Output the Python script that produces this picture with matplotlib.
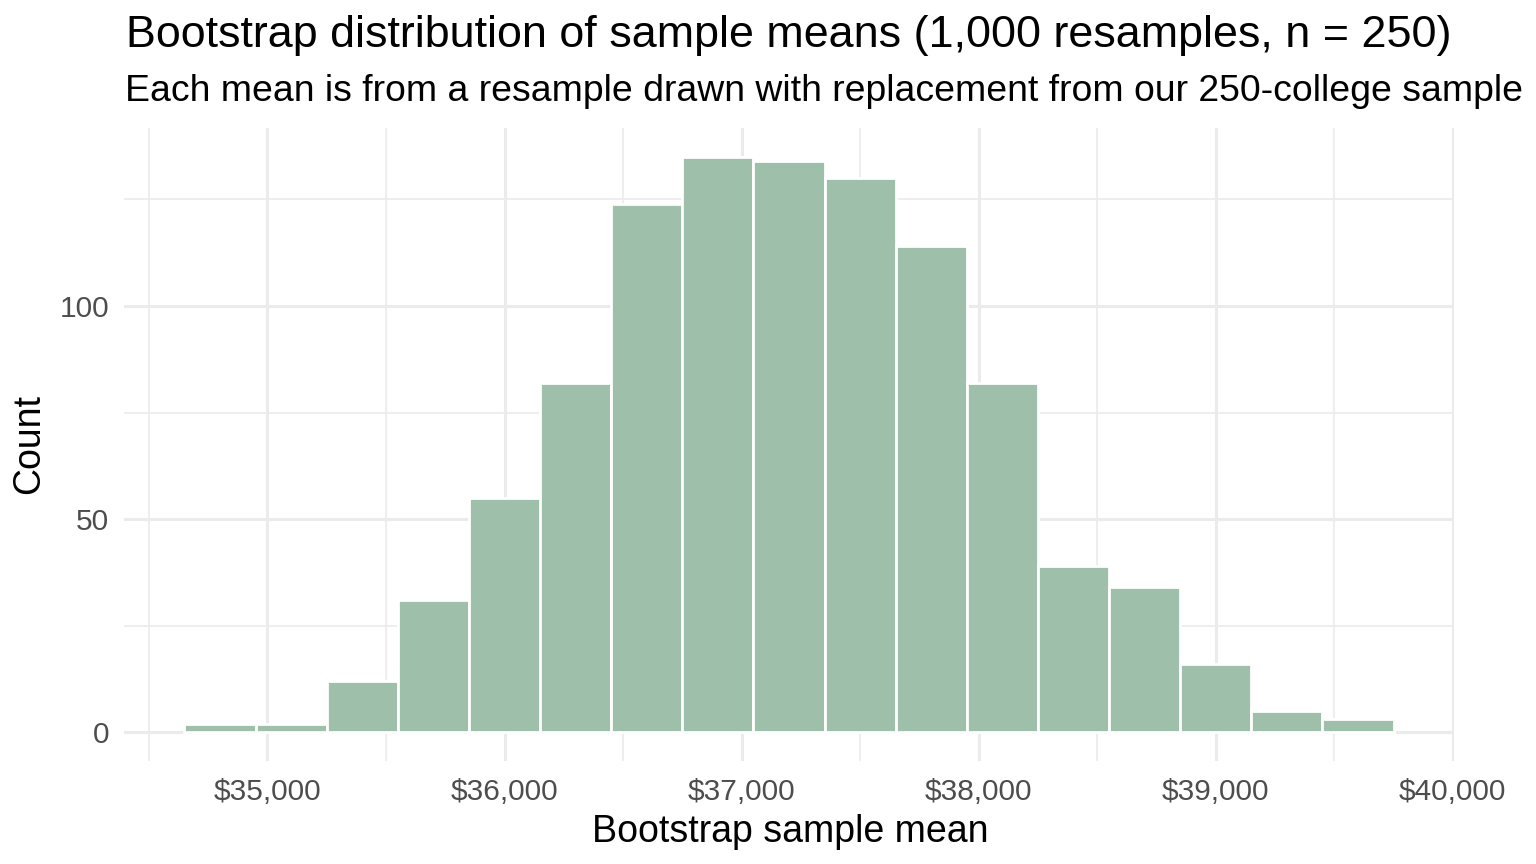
import numpy as np
import matplotlib
matplotlib.use("Agg")
import matplotlib.pyplot as plt
from matplotlib.ticker import FuncFormatter, MultipleLocator

# Data
bin_centers = [34800, 35100, 35400, 35700, 36000, 36300, 36600, 36900, 37200,
               37500, 37800, 38100, 38400, 38700, 39000, 39300, 39600]
counts = [2, 2, 12, 31, 55, 82, 124, 135, 134, 130, 114, 82, 39, 34, 16, 5, 3]
bin_width = 300
x_ticks = [35000, 36000, 37000, 38000, 39000, 40000]
y_ticks = [0, 50, 100]

title = "Bootstrap distribution of sample means (1,000 resamples, n = 250)"
subtitle = "Each mean is from a resample drawn with replacement from our 250-college sample"
x_title = "Bootstrap sample mean"
y_title = "Count"

plt.rcParams['font.family'] = ['Liberation Sans', 'DejaVu Sans']

W, H = 1536, 864
fig = plt.figure(figsize=(W / 100, H / 100), dpi=100)
ax = fig.add_axes([124 / W, (H - 761) / H, (1454 - 124) / W, (761 - 128) / H])

ax.bar(bin_centers, counts, width=bin_width, color="#9EBFAA",
       edgecolor="white", linewidth=2.0, zorder=3)

lo = bin_centers[0] - bin_width / 2
hi = bin_centers[-1] + bin_width / 2
ex = (hi - lo) * 0.05
ax.set_xlim(lo - ex, hi + ex)
ymax = max(counts)
ax.set_ylim(-0.05 * ymax, ymax * 1.05)

ax.set_xticks(x_ticks)
ax.set_yticks(y_ticks)
ax.xaxis.set_minor_locator(MultipleLocator(500))
ax.yaxis.set_minor_locator(MultipleLocator(25))
ax.xaxis.set_major_formatter(FuncFormatter(lambda v, p: f"${v:,.0f}"))

ax.grid(which='major', color="#EBEBEB", linewidth=2.2, zorder=0)
ax.grid(which='minor', color="#EBEBEB", linewidth=1.2, zorder=0)
ax.set_axisbelow(True)
for s in ax.spines.values():
    s.set_visible(False)
ax.tick_params(which='both', length=0)
ax.tick_params(axis='both', labelsize=21.5, labelcolor="#4D4D4D")
ax.tick_params(axis='x', pad=12.5)
ax.tick_params(axis='y', pad=10.8)

fig.text(790 / W, 1 - 842 / H, x_title, fontsize=27, ha='center', va='baseline', color='black')
fig.text(29 / W, 1 - 444.5 / H, y_title, fontsize=27, ha='center', va='center',
         rotation=90, color='black')

fig.text(126 / W, 1 - 47 / H, title, fontsize=32.3, ha='left', va='baseline', color='black')
fig.text(125 / W, 1 - 101 / H, subtitle, fontsize=26.9, ha='left', va='baseline', color='black')

fig.savefig("out.png", dpi=100, facecolor='white')
